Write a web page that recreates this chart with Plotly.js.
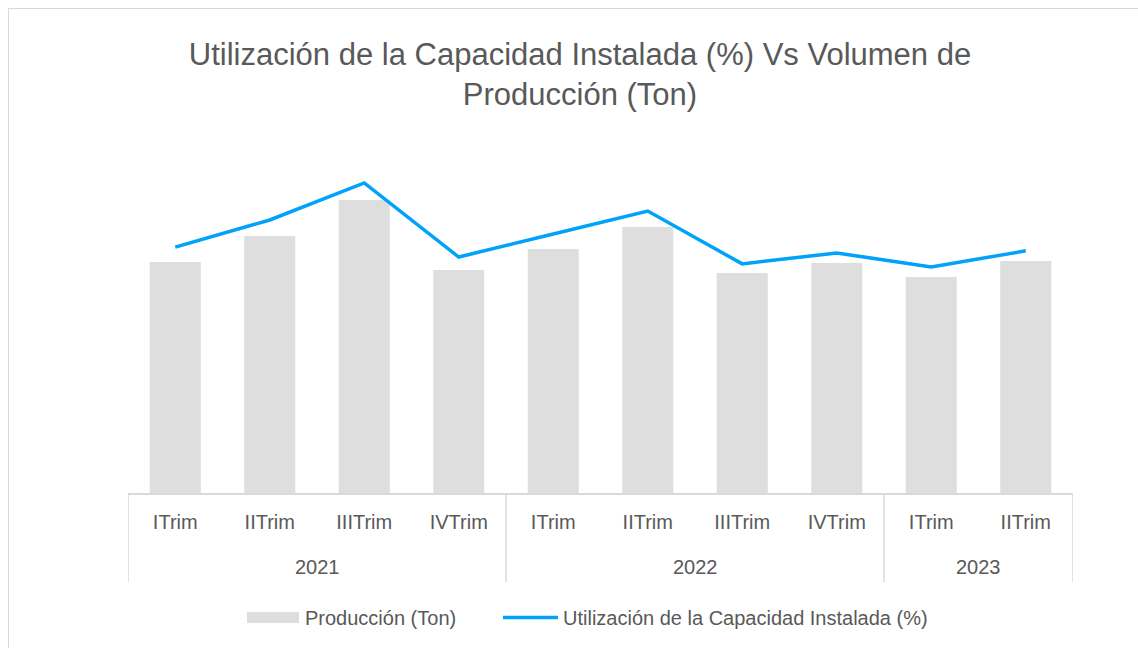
<!DOCTYPE html>
<html>
<head>
<meta charset="utf-8">
<script src="https://cdn.plot.ly/plotly-3.0.1.min.js"></script>
<style>
  html, body { margin: 0; padding: 0; background: #fff; }
  #chart { width: 1138px; height: 648px; }
</style>
</head>
<body>
<div id="chart"></div>
<script>
// Data (scales are not shown in the reference)
const years = ["2021", "2021", "2021", "2021", "2022", "2022", "2022", "2022", "2023", "2023"];
const quarters = ["ITrim", "IITrim", "IIITrim", "IVTrim", "ITrim", "IITrim", "IIITrim", "IVTrim", "ITrim", "IITrim"];
const produccion = [23100, 25700, 29300, 22300, 24400, 26600, 22000, 23000, 21600, 23200];
const utilizacion = [71.7, 79.6, 90.4, 68.8, 75.5, 82.2, 66.8, 70.0, 65.9, 70.6];
const serieBarras = "Producción (Ton)";
const serieLinea = "Utilización de la Capacidad Instalada (%)";
const titulo = "Utilización de la Capacidad Instalada (%) Vs Volumen de<br>Producción (Ton)";

const FONT = '"Liberation Sans", Arial, sans-serif';
const TXT = '#595959';
const BAR = '#dedede';
const LINE = '#00a2fa';
const AXIS = '#d9d9d9';

// plot-area geometry helpers for paper coordinates
const L = 128, R = 1073, T = 150, B = 493;
const px = x => (x - L) / (R - L);
const py = y => (B - y) / (B - T);

const idx = quarters.map((_, i) => i);

// year groups (from the years array)
const groups = [];
years.forEach((y, i) => {
  const g = groups[groups.length - 1];
  if (g && g.year === y) g.end = i; else groups.push({ year: y, start: i, end: i });
});

const traces = [
  {
    type: 'bar',
    name: serieBarras,
    x: idx,
    y: produccion,
    marker: { color: BAR },
    width: 0.54,
    yaxis: 'y',
    showlegend: false,
    text: years.map((y, i) => y + ' ' + quarters[i]),
    hoverinfo: 'text+y',
    textposition: 'none'
  },
  {
    type: 'scatter',
    mode: 'lines',
    name: serieLinea,
    x: idx,
    y: utilizacion,
    line: { color: LINE, width: 3.5 },
    yaxis: 'y2',
    showlegend: false,
    hoverinfo: 'y'
  }
];

const shapes = [
  // chart frame (top and left edges visible)
  { type: 'line', xref: 'paper', yref: 'paper', x0: px(8), x1: px(1140), y0: py(8.5), y1: py(8.5),
    line: { color: AXIS, width: 1 } },
  { type: 'line', xref: 'paper', yref: 'paper', x0: px(8.5), x1: px(8.5), y0: py(8), y1: py(650),
    line: { color: AXIS, width: 1 } },
  // legend swatches
  { type: 'rect', xref: 'paper', yref: 'paper', x0: px(247), x1: px(299), y0: py(612), y1: py(623),
    fillcolor: BAR, line: { width: 0 } },
  { type: 'line', xref: 'paper', yref: 'paper', x0: px(503), x1: px(558), y0: py(617.5), y1: py(617.5),
    line: { color: LINE, width: 3.5 } }
];
// group dividers
const bounds = [groups[0].start - 0.5].concat(groups.map(g => g.end + 0.5));
bounds.forEach(b => {
  shapes.push({ type: 'line', xref: 'x', yref: 'paper', x0: b, x1: b, y0: 0, y1: py(582),
    line: { color: AXIS, width: 1.5 } });
});

const annotations = [
  { xref: 'paper', yref: 'paper', x: px(303), y: py(618), xanchor: 'left', yanchor: 'middle',
    text: serieBarras, showarrow: false, font: { family: FONT, size: 20, color: TXT } },
  { xref: 'paper', yref: 'paper', x: px(561), y: py(618), xanchor: 'left', yanchor: 'middle',
    text: serieLinea, showarrow: false, font: { family: FONT, size: 20, color: TXT } }
];
groups.forEach(g => {
  annotations.push({ xref: 'x', yref: 'paper', x: (g.start + g.end) / 2, y: py(567),
    xanchor: 'center', yanchor: 'middle', text: g.year, showarrow: false,
    font: { family: FONT, size: 20, color: TXT } });
});

const layout = {
  width: 1138,
  height: 648,
  margin: { l: L, r: 1138 - R, t: T, b: 648 - B },
  paper_bgcolor: '#ffffff',
  plot_bgcolor: '#ffffff',
  font: { family: FONT, color: TXT, size: 20 },
  title: {
    text: titulo,
    font: { family: FONT, size: 31, color: TXT },
    x: 580 / 1138,
    xanchor: 'center',
    xref: 'container',
    y: 1 - 65 / 648,
    yanchor: 'top',
    yref: 'container'
  },
  xaxis: {
    type: 'linear',
    range: [-0.5, quarters.length - 0.5],
    tickmode: 'array',
    tickvals: idx,
    ticktext: quarters,
    showline: true,
    linecolor: AXIS,
    linewidth: 1.5,
    ticks: '',
    ticklabelstandoff: 10,
    tickfont: { family: FONT, size: 20, color: TXT },
    showgrid: false,
    zeroline: false,
    fixedrange: true
  },
  yaxis: {
    range: [0, 34300],
    visible: false,
    showgrid: false,
    zeroline: false,
    fixedrange: true
  },
  yaxis2: {
    range: [0, 100],
    overlaying: 'y',
    side: 'right',
    visible: false,
    showgrid: false,
    zeroline: false,
    fixedrange: true
  },
  showlegend: false,
  shapes: shapes,
  annotations: annotations
};

Plotly.newPlot('chart', traces, layout, { displayModeBar: false, responsive: false });
</script>
</body>
</html>
